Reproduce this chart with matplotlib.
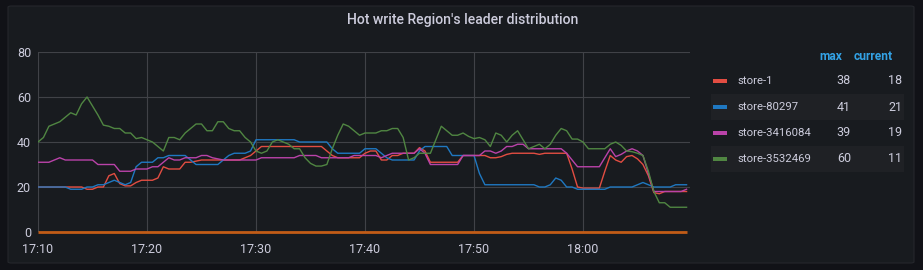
import matplotlib
matplotlib.use("Agg")
import matplotlib.pyplot as plt
from matplotlib.patches import Rectangle, FancyBboxPatch
import pandas as pd

# ---------------- data ----------------
title = "Hot write Region's leader distribution"
start_time = "2021-01-01 17:10:00"
step_seconds = 30

store_1 = [20, 20, 20, 20, 20, 20, 20, 20, 20, 19, 19, 20, 20, 25, 26, 21.5, 20.5, 20.5, 22, 23,
           23, 23, 24, 29, 28, 28, 28, 31, 31, 31.5, 32, 32, 32, 32, 32, 32, 32, 32, 33, 34,
           36, 38, 38, 38, 38, 38, 38, 38, 38, 38, 38, 38, 38, 36, 34, 33, 33, 33, 33, 33,
           35, 36, 36, 32, 32, 34, 34, 35, 35, 35, 37.5, 36, 31, 31, 31, 31, 31, 31, 34, 34,
           34, 34, 34, 33, 33, 33.5, 34.5, 35, 35, 35, 35, 35, 34.5, 35, 35, 35, 35, 35, 28, 20,
           19.5, 19.5, 19.5, 19.5, 27, 34, 32, 31, 33.5, 34, 32.5, 30, 25, 17.5, 17, 18, 18, 18, 18, 18]
store_80297 = [20, 20, 20, 20, 20, 20, 19, 19, 19, 20, 20, 21, 21, 22, 23, 22, 21, 22, 29, 31,
               31, 31, 33, 33, 34, 34, 34, 34, 32, 30, 30, 30, 30, 30, 32, 34, 35, 35, 35, 36,
               41, 41, 41, 41, 41, 41, 41, 41, 40, 40, 40, 40, 40, 40, 37, 35, 35, 35, 35, 35,
               37, 37, 37, 35, 33, 32, 32, 32, 32, 32, 36, 38, 38, 38, 38, 38, 34, 34, 34, 34,
               34, 26, 21, 21, 21, 21, 21, 21, 21, 21, 21, 21, 20, 20, 21, 24, 23, 20, 20, 19,
               19, 19, 19, 19, 19, 20, 20, 20, 20, 20, 21, 22, 21, 20, 20, 20, 20, 21, 21, 21]
store_3416084 = [31, 31, 31, 32, 33, 32, 32, 32, 32, 32, 32, 30, 30, 30, 30, 27, 27, 27, 28, 28,
                 28, 29, 29, 31, 33, 32, 32, 33, 33, 33, 34, 34, 33, 32.5, 32, 32, 32, 32, 32, 32,
                 32, 33, 33, 33, 33, 33, 33, 33, 34, 34, 34, 34, 33, 33, 33, 33, 33, 33, 34, 34,
                 34, 34, 34, 33, 34, 35, 35, 35, 35, 35, 37, 35, 30, 30, 30, 30, 30, 30, 34, 34,
                 34, 34, 36, 36, 35, 36, 38, 38, 39, 39, 37, 37, 37, 37, 37, 37, 37, 35, 32, 29,
                 29, 29, 29, 29, 33, 37, 33.5, 34.5, 36, 37, 36, 34, 26, 18, 18, 18, 18, 18, 18, 19]
store_3532469 = [40, 42, 47, 48, 49, 51, 53, 52, 57, 60, 56, 52, 47.5, 47, 46, 46, 44, 44, 41.5, 42,
                 41, 40, 38, 36, 42, 42, 41, 44, 46, 48, 48, 45, 45, 49, 49, 46, 45, 45, 42, 40,
                 36, 35, 36, 40, 41, 40, 39, 37, 37, 33, 30.5, 29.3, 29.3, 30, 37, 43, 48, 47, 45, 43,
                 44, 44, 44, 45, 45, 46, 46, 42, 32, 33, 35, 35, 35, 41, 47, 45, 43, 43, 44, 42.5,
                 41.5, 42, 41, 38, 44, 43, 40, 43, 45, 41, 37, 38, 39, 37, 39, 43, 46, 45, 41.3, 41.3,
                 40, 37, 37, 37, 37, 39, 40, 38.5, 36, 35.7, 35, 34, 27, 18, 13, 13, 11, 11, 11, 11]
hidden_zero = [0] * 120

series_names = ["store-1", "store-80297", "store-3416084", "store-3532469"]
series_values = [store_1, store_80297, store_3416084, store_3532469]
series_colors = ["#E24D42", "#1F78C1", "#BA43A9", "#508642"]
legend_max = ["38", "41", "39", "60"]
legend_current = ["18", "21", "19", "11"]

y_ticks = [0, 20, 40, 60, 80]
x_tick_labels = ["17:10", "17:20", "17:30", "17:40", "17:50", "18:00"]

# ---------------- figure ----------------
W, H = 923, 270
DPI = 100
fig = plt.figure(figsize=(W / DPI, H / DPI), dpi=DPI, facecolor="#111217")
FONT = ["Roboto", "DejaVu Sans"]
TXT = "#ccccdc"

def px(v):
    return v * 72 / DPI

# panel
panel = FancyBboxPatch((8 / W, (H - 263) / H), (914 - 8) / W, (263 - 6) / H,
                       boxstyle="round,pad=0,rounding_size=0.004",
                       transform=fig.transFigure, facecolor="#181b1f",
                       edgecolor="#25272c", linewidth=0.8, zorder=-5)
fig.patches.append(panel)

fig.text(463 / W, 1 - 20 / H, title, ha="center", va="center", color=TXT,
         fontsize=px(14), fontweight="medium", family=FONT)

L, R, T, B = 38, 690, 52, 232
ax = fig.add_axes([L / W, (H - B) / H, (R - L) / W, (B - T) / H])
ax.set_facecolor("none")
ax.set_zorder(2)

times = pd.date_range(start=start_time, periods=len(store_1), freq=f"{step_seconds}s")
t0 = pd.Timestamp(start_time)
for vals, col in zip(series_values, series_colors):
    ax.plot(times, vals, color=col, lw=1.0, zorder=4)
ax.plot(times, hidden_zero, color="#C15C17", lw=2.0, zorder=5, solid_capstyle="butt", clip_on=False)

ax.set_ylim(0, 80)
ax.set_xlim(t0, t0 + pd.Timedelta(minutes=(R - L) / 10.9))
ax.set_yticks(y_ticks)
ax.set_yticklabels([str(v) for v in y_ticks])
xt = [t0 + pd.Timedelta(minutes=10 * i) for i in range(len(x_tick_labels))]
ax.set_xticks(xt)
ax.set_xticklabels(x_tick_labels)
ax.grid(True, color="#404247", lw=0.8)
ax.set_axisbelow(True)
for s in ax.spines.values():
    s.set_visible(False)
ax.tick_params(length=0, colors=TXT, labelsize=px(12.5))
for lab in ax.get_xticklabels() + ax.get_yticklabels():
    lab.set_family(FONT)
ax.tick_params(axis="x", pad=px(11))
ax.tick_params(axis="y", pad=px(7))

# legend table
fig.text(831 / W, 1 - 57 / H, "max", ha="center", va="center", color="#33a2e5",
         fontsize=px(12), fontweight="bold", family=FONT)
fig.text(873 / W, 1 - 57 / H, "current", ha="center", va="center", color="#33a2e5",
         fontsize=px(12), fontweight="bold", family=FONT)
row_y = [81, 107, 133, 159]
for i, (name, col, mx, cur) in enumerate(zip(series_names, series_colors, legend_max, legend_current)):
    y = row_y[i]
    if i % 2 == 1:
        fig.patches.append(Rectangle((711 / W, 1 - (y + 13) / H), (904 - 711) / W, 26 / H,
                                     transform=fig.transFigure, facecolor="#1f2125",
                                     edgecolor="none", zorder=1))
    fig.patches.append(Rectangle((713 / W, 1 - (y + 2) / H), 14 / W, 4 / H,
                                 transform=fig.transFigure, facecolor=col,
                                 edgecolor="none", zorder=2))
    fig.text(737 / W, 1 - y / H, name, ha="left", va="center", color=TXT,
             fontsize=px(11.4), family=FONT, zorder=3)
    fig.text(851 / W, 1 - y / H, mx, ha="right", va="center", color=TXT,
             fontsize=px(12.5), family=FONT, zorder=3)
    fig.text(902 / W, 1 - y / H, cur, ha="right", va="center", color=TXT,
             fontsize=px(12.5), family=FONT, zorder=3)

fig.savefig("out.png", dpi=DPI, facecolor=fig.get_facecolor())
